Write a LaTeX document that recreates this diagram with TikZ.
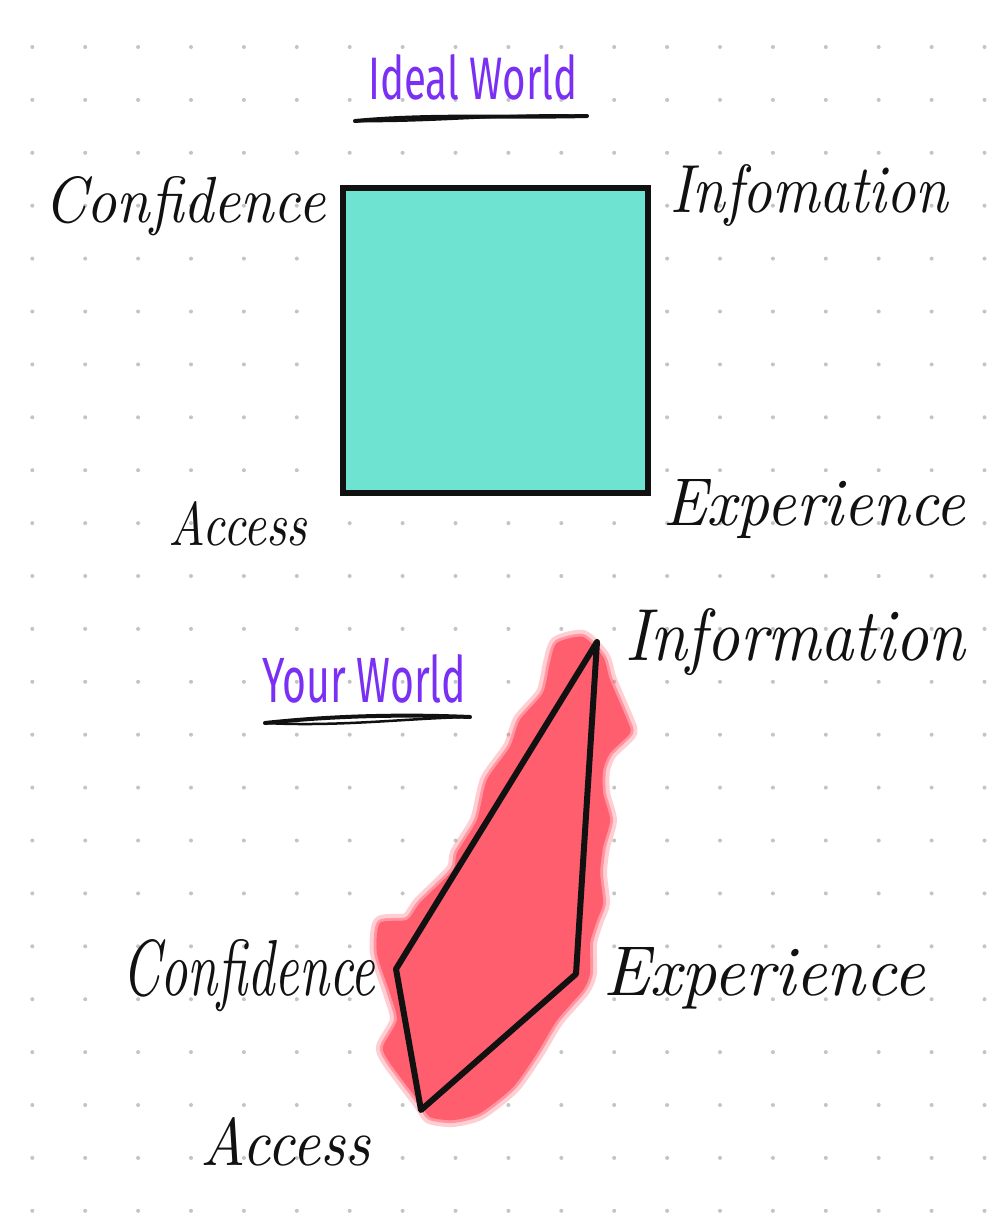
\documentclass[tikz,border=0pt]{standalone}
\usepackage{fontspec}
\newfontfamily\titlefont{Fira Sans}
\usepackage{graphicx}
\definecolor{dotc}{HTML}{C4C4C4}
\definecolor{tealc}{HTML}{6EE3D1}
\definecolor{redc}{HTML}{FF5E6E}
\definecolor{purplec}{HTML}{7A2FF4}
\definecolor{inkc}{HTML}{111111}
\tikzset{
  hand/.style={inner sep=0pt, anchor=base west, text=inkc},
  ttl/.style={inner sep=0pt, anchor=south west, text=purplec},
  outline/.style={draw=inkc, line width=6pt, line join=round, line cap=round},
  uline/.style={draw=inkc, line width=4pt, line cap=round},
}
\newcommand{\hw}[3]{\resizebox{#1pt}{#2pt}{\itshape #3}}
\newcommand{\tw}[3]{\resizebox{#1pt}{#2pt}{\titlefont #3}}
\newcommand{\blobpath}{plot[smooth cycle, tension=0.4] coordinates {(557,643) (583,637) (603,657) (610,680) (627,720) (630,733) (610,753) (603,770) (603,793) (610,820) (603,847) (600,873) (603,903) (597,920) (590,943) (590,973) (583,990) (557,1020) (537,1053) (513,1087) (480,1113) (453,1120) (430,1117) (420,1103) (390,1063) (383,1047) (397,1020) (390,993) (377,953) (380,923) (407,920) (420,903) (453,870) (457,853) (477,820) (487,780) (510,747) (520,720) (543,693) (550,663)}}
\begin{document}
\begin{tikzpicture}[x=1pt,y=-1pt]
\useasboundingbox (0,0) rectangle (996,1227);
\fill[white] (0,0) rectangle (996,1227);
% dot grid
\foreach \i in {0,...,18}{
  \foreach \j in {0,...,22}{
    \fill[dotc] ({32.3+52.9*\i},{47+52.9*\j}) circle (2);
  }
}
% Ideal world
\node[ttl] (idealt) at (368,100) {\tw{209}{45}{Ideal World}};
\coordinate (iu1) at (355,121);
\coordinate (iu2) at (587,116);
\draw[uline] (iu1) .. controls (430,114) and (500,118) .. (iu2);
\draw[uline, line width=2.5pt] (iu1) .. controls (440,122) and (510,113) .. (iu2);

\node[draw=inkc, line width=6pt, fill=tealc, minimum width=305pt, minimum height=305pt, inner sep=0pt, outer sep=0pt] (sq) at (495.5,340.5) {};

\node[hand] (conf1) at (44,222) {\hw{281}{46}{Confidence}};
\node[hand] (info1) at (670,212) {\hw{278}{48}{Infomation}};
\node[hand] (acc1) at (168,545) {\hw{139}{44}{Access}};
\node[hand] (exp1) at (663,525) {\hw{302}{46}{Experience}};

% Your world
\node[ttl] (yourt) at (262,703) {\tw{204}{48}{Your World}};
\coordinate (yu1) at (265,723);
\coordinate (yu2) at (470,717);
\draw[uline] (yu1) .. controls (330,716) and (400,714) .. (yu2);
\draw[uline, line width=2.5pt] (yu1) .. controls (340,727) and (410,718) .. (yu2);

% red blob
\fill[redc, opacity=0.3] [draw=redc, line width=14pt, line join=round] \blobpath;
\fill[redc, opacity=0.5] [draw=redc, line width=6pt, line join=round] \blobpath;
\fill[redc] \blobpath;

\coordinate (vI) at (597,642);
\coordinate (vE) at (576,974);
\coordinate (vA) at (421,1110);
\coordinate (vC) at (396,969);
\draw[outline] (vI) -- (vE) -- (vA) -- (vC) -- cycle;

\node[hand] (info2) at (625,660) {\hw{340}{52}{Information}};
\node[hand] (conf2) at (122,995) {\hw{253}{56}{Confidence}};
\node[hand] (exp2) at (603,995) {\hw{322}{48}{Experience}};
\node[hand] (acc2) at (200,1165) {\hw{170}{48}{Access}};
\end{tikzpicture}
\end{document}
